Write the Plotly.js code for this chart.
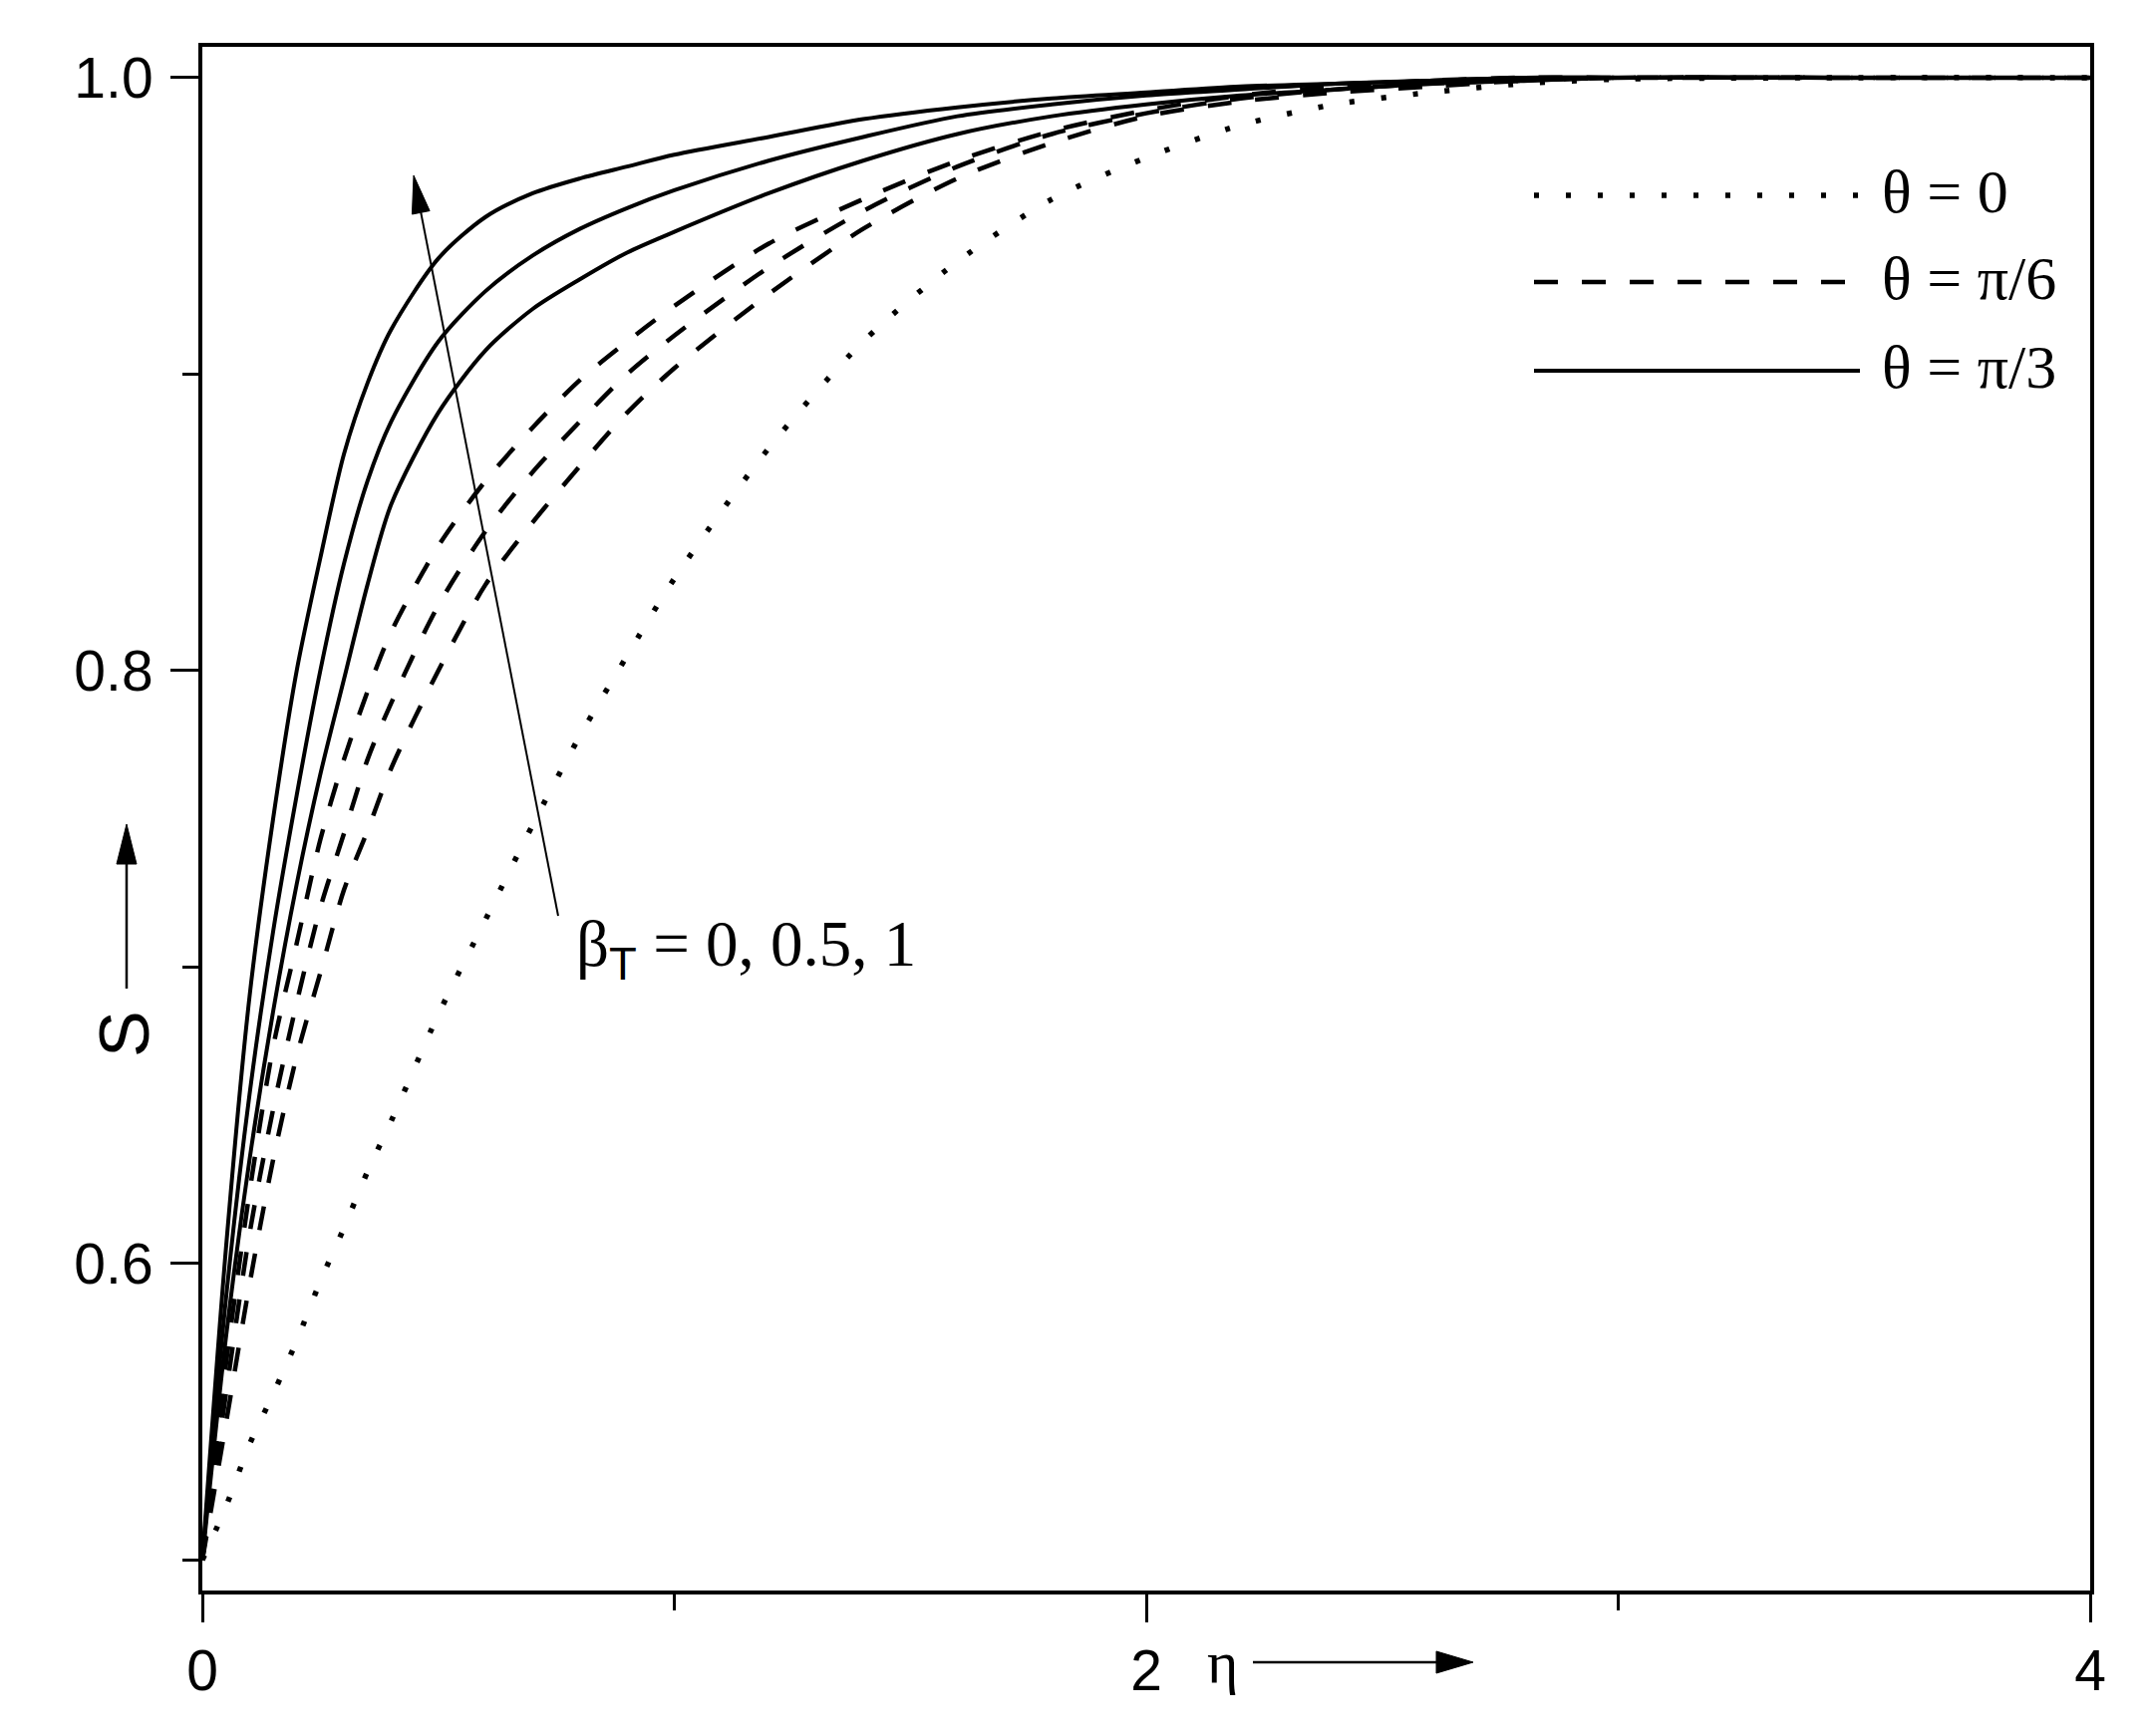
<!DOCTYPE html>
<html><head><meta charset="utf-8">
<script src="https://cdn.plot.ly/plotly-3.0.1.min.js"></script>
<style>html,body{margin:0;padding:0;background:#fff}#chart{width:2152px;height:1742px}</style>
</head><body><div id="chart"></div>
<script>
// ---------- data ----------
const eta = [0, 0.05, 0.1, 0.15, 0.2, 0.25, 0.3, 0.35, 0.4, 0.5, 0.6, 0.7, 0.8, 0.9, 1.0,
             1.2, 1.4, 1.6, 1.8, 2.0, 2.2, 2.4, 2.6, 2.8, 3.0, 3.5, 4.0];

// theta = 0 (dotted)
const S_theta0 = [0.5, 0.518, 0.539, 0.556, 0.574, 0.594, 0.612, 0.631, 0.648, 0.684, 0.716, 0.748, 0.778, 0.805, 0.831,
                  0.875, 0.911, 0.938, 0.959, 0.973, 0.984, 0.991, 0.995, 0.998, 0.9995, 1.0, 1.0];

// theta = pi/6 (dashed), beta_T = 0, 0.5, 1
const S_pi6_b0  = [0.5, 0.546, 0.593, 0.635, 0.670, 0.698, 0.726, 0.746, 0.767, 0.800, 0.829, 0.850, 0.869, 0.887, 0.902,
                   0.927, 0.949, 0.966, 0.978, 0.987, 0.992, 0.995, 0.997, 0.999, 1.0, 1.0, 1.0];
const S_pi6_b05 = [0.5, 0.556, 0.610, 0.652, 0.688, 0.720, 0.745, 0.770, 0.789, 0.822, 0.847, 0.867, 0.884, 0.900, 0.913,
                   0.936, 0.955, 0.970, 0.981, 0.988, 0.993, 0.996, 0.998, 0.999, 1.0, 1.0, 1.0];
const S_pi6_b1  = [0.5, 0.566, 0.624, 0.673, 0.708, 0.743, 0.770, 0.793, 0.813, 0.842, 0.864, 0.882, 0.898, 0.911, 0.923,
                   0.944, 0.959, 0.972, 0.982, 0.989, 0.994, 0.997, 0.999, 1.0, 1.0, 1.0, 1.0];

// theta = pi/3 (solid), beta_T = 0, 0.5, 1
const S_pi3_b0  = [0.5, 0.575, 0.635, 0.685, 0.728, 0.765, 0.797, 0.829, 0.856, 0.887, 0.908, 0.922, 0.932, 0.941, 0.948,
                   0.961, 0.972, 0.981, 0.987, 0.991, 0.994, 0.996, 0.998, 0.999, 1.0, 1.0, 1.0];
const S_pi3_b05 = [0.5, 0.588, 0.657, 0.712, 0.758, 0.800, 0.836, 0.864, 0.884, 0.911, 0.928, 0.940, 0.949, 0.956, 0.962,
                   0.972, 0.980, 0.987, 0.991, 0.994, 0.996, 0.998, 0.999, 1.0, 1.0, 1.0, 1.0];
const S_pi3_b1  = [0.5, 0.605, 0.690, 0.750, 0.800, 0.838, 0.873, 0.897, 0.915, 0.939, 0.953, 0.961, 0.966, 0.970, 0.974,
                   0.980, 0.986, 0.990, 0.993, 0.995, 0.997, 0.998, 0.999, 1.0, 1.0, 1.0, 1.0];

// ticks and labels
const xTickVals = [0, 2, 4];
const xTickText = ['0', '2', '4'];
const xMinorVals = [1, 3];
const yTickVals = [0.6, 0.8, 1.0];
const yTickText = ['0.6', '0.8', '1.0'];
const yMinorVals = [0.5, 0.7, 0.9];
const legendLabels = ['θ = 0', 'θ = π/6', 'θ = π/3'];
const betaLabel = 'β<sub><span style="font-family:Liberation Sans, Arial, sans-serif">T</span></sub> = 0, 0.5, 1';
const xLabel = 'η';
const yLabel = 'S';

// ---------- layout geometry ----------
const W = 2152, H = 1742;
const M = {l: 203, r: 55, t: 47, b: 146};
const PW = W - M.l - M.r, PH = H - M.t - M.b;
const px = x => (x - M.l) / PW;        // pixel -> paper x
const py = y => 1 - (y - M.t) / PH;    // pixel -> paper y

const SANS = 'Liberation Sans, Arial, sans-serif';
const SERIF = 'Liberation Serif, Times New Roman, serif';

const solid = {color: '#000', width: 4, dash: 'solid'};
const dashed = {color: '#000', width: 4.5, dash: '24px,24px'};
const dotted = {color: '#000', width: 5.5, dash: '5px,27px'};

function tr(y, line) {
  return {x: eta, y: y, type: 'scatter', mode: 'lines', showlegend: false, hoverinfo: 'skip',
          line: Object.assign({shape: 'spline', smoothing: 0.8}, line)};
}
const data = [
  tr(S_theta0, dotted),
  tr(S_pi6_b0, dashed), tr(S_pi6_b05, dashed), tr(S_pi6_b1, dashed),
  tr(S_pi3_b0, solid), tr(S_pi3_b05, solid), tr(S_pi3_b1, solid)
];

// arrows (shaft + filled head) in pixel space -> paper
function arrow(x0, y0, x1, y1, len, half, w) {
  const dx = x1 - x0, dy = y1 - y0, L = Math.hypot(dx, dy);
  const ux = dx / L, uy = dy / L, nx = -uy, ny = ux;
  const bx = x1 - len * ux, by = y1 - len * uy;
  return [
    {type: 'line', xref: 'paper', yref: 'paper', x0: px(x0), y0: py(y0), x1: px(bx + ux * 2), y1: py(by + uy * 2),
     line: {color: '#000', width: w}},
    {type: 'path', xref: 'paper', yref: 'paper', fillcolor: '#000', line: {color: '#000', width: 1},
     path: `M${px(x1)},${py(y1)} L${px(bx + nx * half)},${py(by + ny * half)} L${px(bx - nx * half)},${py(by - ny * half)} Z`}
  ];
}

const legendY = [196, 283, 372];
const legendDash = [dotted, dashed, solid];
const shapes = [].concat(
  arrow(127, 992, 127, 827, 40, 10, 2.5),
  arrow(1257, 1668, 1478, 1668, 37, 11, 2.5),
  arrow(560, 919, 415, 176, 38, 9, 2)
);
legendY.forEach((y, i) => {
  shapes.push({type: 'line', xref: 'paper', yref: 'paper', x0: px(1539), x1: px(1866), y0: py(y), y1: py(y),
               line: legendDash[i]});
});

const annotations = [];
legendLabels.forEach((t, i) => {
  annotations.push({xref: 'paper', yref: 'paper', x: px(1886), y: py(legendY[i] - 4), text: t, showarrow: false,
                    xanchor: 'left', yanchor: 'middle', font: {family: SERIF, size: 62, color: '#000'}});
});
annotations.push({xref: 'paper', yref: 'paper', x: px(576), y: py(952), text: betaLabel, showarrow: false,
                  xanchor: 'left', yanchor: 'middle', font: {family: SERIF, size: 65, color: '#000'}});
annotations.push({xref: 'paper', yref: 'paper', x: px(1226), y: py(1668), text: xLabel, showarrow: false,
                  xanchor: 'center', yanchor: 'middle', font: {family: SERIF, size: 60, color: '#000'}});
annotations.push({xref: 'paper', yref: 'paper', x: px(125), y: py(1038), text: yLabel, showarrow: false,
                  textangle: -90, xanchor: 'center', yanchor: 'middle', font: {family: SANS, size: 70, color: '#000'}});

const axisCommon = {
  showline: true, linecolor: '#000', linewidth: 4, mirror: true,
  ticks: 'outside', ticklen: 28, tickwidth: 3, tickcolor: '#000',
  showgrid: false, zeroline: false, tickmode: 'array',
  tickfont: {family: SANS, size: 57, color: '#000'}
};

const layout = {
  width: W, height: H, margin: M,
  paper_bgcolor: '#fff', plot_bgcolor: '#fff', showlegend: false,
  xaxis: Object.assign({}, axisCommon, {range: [0, 4], tickvals: xTickVals, ticktext: xTickText,
    minor: {tickmode: 'array', tickvals: xMinorVals, ticks: 'outside', ticklen: 16, tickwidth: 3, tickcolor: '#000', showgrid: false}}),
  yaxis: Object.assign({}, axisCommon, {range: [0.4897, 1.0104], tickvals: yTickVals, ticktext: yTickText,
    ticklabelstandoff: 6,
    minor: {tickmode: 'array', tickvals: yMinorVals, ticks: 'outside', ticklen: 16, tickwidth: 3, tickcolor: '#000', showgrid: false}}),
  shapes: shapes,
  annotations: annotations
};

Plotly.newPlot('chart', data, layout, {staticPlot: true, displayModeBar: false});
</script></body></html>
